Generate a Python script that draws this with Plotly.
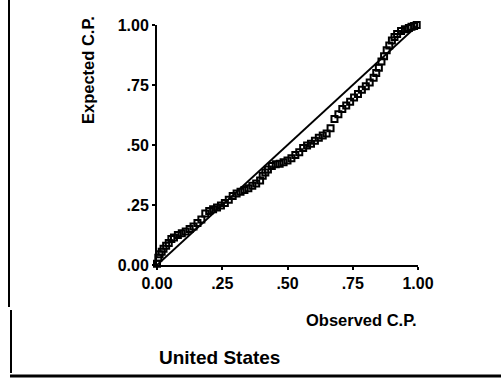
import plotly.graph_objects as go

# Observed vs expected cumulative probabilities
observed = [0.000, 0.005, 0.010, 0.018, 0.025, 0.035, 0.045, 0.055, 0.065, 0.080,
            0.095, 0.110, 0.125, 0.140, 0.155, 0.170, 0.185, 0.200, 0.215, 0.230,
            0.245, 0.260, 0.275, 0.290, 0.305, 0.320, 0.335, 0.350, 0.365, 0.380,
            0.395, 0.405, 0.415, 0.425, 0.440, 0.455, 0.470, 0.485, 0.500, 0.515,
            0.530, 0.545, 0.560, 0.575, 0.590, 0.605, 0.620, 0.635, 0.650, 0.665,
            0.680, 0.695, 0.710, 0.725, 0.740, 0.755, 0.770, 0.785, 0.800, 0.815,
            0.830, 0.840, 0.850, 0.860, 0.870, 0.880, 0.890, 0.900, 0.910, 0.920,
            0.935, 0.950, 0.965, 0.975, 0.985, 0.995]
expected = [0.005, 0.030, 0.045, 0.055, 0.068, 0.080, 0.092, 0.108, 0.115, 0.125,
            0.132, 0.140, 0.150, 0.160, 0.175, 0.190, 0.215, 0.225, 0.232, 0.240,
            0.248, 0.258, 0.272, 0.288, 0.298, 0.305, 0.312, 0.320, 0.330, 0.340,
            0.352, 0.372, 0.385, 0.398, 0.412, 0.420, 0.422, 0.428, 0.435, 0.445,
            0.458, 0.470, 0.488, 0.498, 0.505, 0.518, 0.530, 0.540, 0.548, 0.570,
            0.608, 0.628, 0.650, 0.665, 0.680, 0.698, 0.712, 0.730, 0.745, 0.760,
            0.780, 0.800, 0.822, 0.848, 0.870, 0.895, 0.915, 0.935, 0.950, 0.962,
            0.975, 0.982, 0.988, 0.993, 0.996, 1.000]

diag_x = [0.0, 1.0]
diag_y = [0.0, 1.0]

tick_vals = [0.0, 0.25, 0.5, 0.75, 1.0]
x_tick_text = ["0.00", ".25", ".50", ".75", "1.00"]
y_tick_text = ["0.00", ".25", ".50", ".75", "1.00"]

W, H = 501, 378
L, R, T, B = 157, 418, 25, 265


def px(x):
    return (x - L) / (R - L)


def py(y):
    return (B - y) / (B - T)


FONT = "Liberation Sans, Arial, sans-serif"

fig = go.Figure()
fig.add_trace(go.Scatter(x=diag_x, y=diag_y, mode="lines",
                         line=dict(color="black", width=2),
                         hoverinfo="skip", cliponaxis=False))
fig.add_trace(go.Scatter(x=observed, y=expected, mode="markers",
                         marker=dict(symbol="square-open", size=6, color="black",
                                     line=dict(width=2, color="black")),
                         cliponaxis=False))

fig.update_layout(
    width=W, height=H,
    margin=dict(l=L, r=W - R, t=T, b=H - B),
    paper_bgcolor="white", plot_bgcolor="white",
    showlegend=False,
    font=dict(family=FONT, color="black"),
    xaxis=dict(range=[0, 1], tickvals=tick_vals, ticktext=x_tick_text,
               showgrid=False, zeroline=False, showline=True, linecolor="black",
               linewidth=2, ticks="outside", ticklen=3, tickwidth=2,
               tickcolor="black",
               tickfont=dict(family=FONT, size=16, weight="bold")),
    yaxis=dict(range=[0, 1], tickvals=tick_vals, ticktext=y_tick_text,
               showgrid=False, zeroline=False, showline=True, linecolor="black",
               linewidth=2, ticks="outside", ticklen=3, tickwidth=2,
               tickcolor="black",
               tickfont=dict(family=FONT, size=16, weight="bold")),
    annotations=[
        dict(text="Expected C.P.", xref="paper", yref="paper",
             x=px(88), y=py(70), textangle=-90, showarrow=False,
             font=dict(family=FONT, size=16.5, weight="bold"),
             xanchor="center", yanchor="middle"),
        dict(text="Observed C.P.", xref="paper", yref="paper",
             x=px(361), y=py(320), showarrow=False,
             font=dict(family=FONT, size=16.5, weight="bold"),
             xanchor="center", yanchor="middle"),
        dict(text="United States", xref="paper", yref="paper",
             x=px(219), y=py(357), showarrow=False,
             font=dict(family=FONT, size=19, weight="bold"),
             xanchor="center", yanchor="middle"),
    ],
    shapes=[
        dict(type="line", xref="paper", yref="paper",
             x0=px(9), x1=px(9), y0=py(0), y1=py(307),
             line=dict(color="black", width=2)),
        dict(type="line", xref="paper", yref="paper",
             x0=px(11), x1=px(11), y0=py(310), y1=py(373),
             line=dict(color="black", width=2)),
        dict(type="line", xref="paper", yref="paper",
             x0=px(10), x1=px(501), y0=py(376), y1=py(376),
             line=dict(color="black", width=3)),
    ],
)

fig.write_html("out.html")
